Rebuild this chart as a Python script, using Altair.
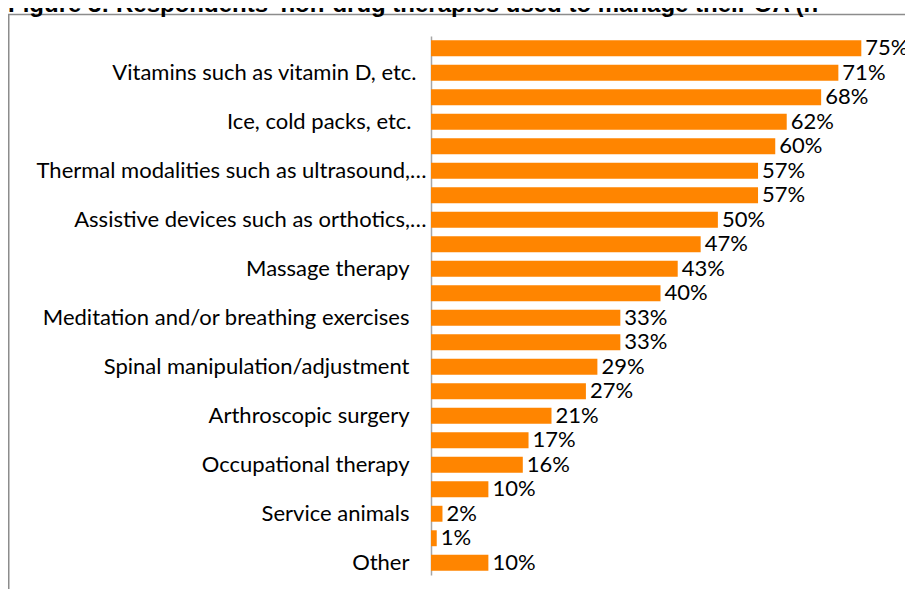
import json
import altair as alt
import pandas as pd

title_text = "Figure 3: Respondents' non-drug therapies used to manage their OA (n"

categories = [
    "", "Vitamins such as vitamin D, etc.", "", "Ice, cold packs, etc.", "",
    "Thermal modalities such as ultrasound,…", "", "Assistive devices such as orthotics,…", "",
    "Massage therapy", "", "Meditation and/or breathing exercises", "",
    "Spinal manipulation/adjustment", "", "Arthroscopic surgery", "",
    "Occupational therapy", "", "Service animals", "", "Other",
]
values = [75, 71, 68, 62, 60, 57, 57, 50, 47, 43, 40, 33, 33, 29, 27, 21, 17, 16, 10, 2, 1, 10]
value_labels = [f"{v}%" for v in values]

df = pd.DataFrame({
    "rank": list(range(len(values))),
    "category": categories,
    "value": values,
    "label": value_labels,
})

label_expr = json.dumps(categories, ensure_ascii=False) + "[datum.value]"

FONT = "Lato"

base = alt.Chart(df)

label_pad = {
    "condition": [
        {"test": "datum.value == 5 || datum.value == 7", "value": 5},
        {"test": "datum.value == 1", "value": 15},
        {"test": "datum.value == 3", "value": 20},
    ],
    "value": 22,
}

y_enc = alt.Y(
    "rank:O",
    scale=alt.Scale(paddingInner=0.35, paddingOuter=0.175),
    axis=alt.Axis(
        title=None, ticks=False, grid=False,
        domainColor="#A6A6A6", domainWidth=1.5,
        labelExpr=label_expr, labelFont=FONT, labelFontSize=22,
        labelColor="#000000", labelPadding=label_pad, labelLimit=600,
    ),
)
x_enc = alt.X("value:Q", scale=alt.Scale(domain=[0, 80], nice=False), axis=None)

bars = base.mark_bar(color="#FF8500").encode(x=x_enc, y=y_enc)
texts = base.mark_text(
    align="left", baseline="middle", dx=4, font=FONT, fontSize=22, color="#000000"
).encode(x=x_enc, y=alt.Y("rank:O"), text="label:N")

frame = alt.Chart(pd.DataFrame({"f": [1]})).mark_rect(
    fill="transparent", stroke="#8C8C8C", strokeWidth=1.5
).encode(
    x=alt.value(-422.25), x2=alt.value(1200),
    y=alt.value(-21.5), y2=alt.value(1200),
)

title = alt.Chart(pd.DataFrame({"t": [title_text]})).mark_text(
    align="left", baseline="alphabetic", font="Liberation Sans",
    fontSize=24, fontWeight="bold", color="#000000",
).encode(x=alt.value(-423), y=alt.value(-24), text="t:N")

chart = alt.layer(frame, title, bars, texts).properties(
    width=459, height=539,
    autosize=alt.AutoSizeParams(type="none"),
    padding={"left": 423, "top": 28, "right": 15, "bottom": 14},
).configure_view(stroke=None)

chart.save("out.html", embed_options={"renderer": "svg", "actions": False})
